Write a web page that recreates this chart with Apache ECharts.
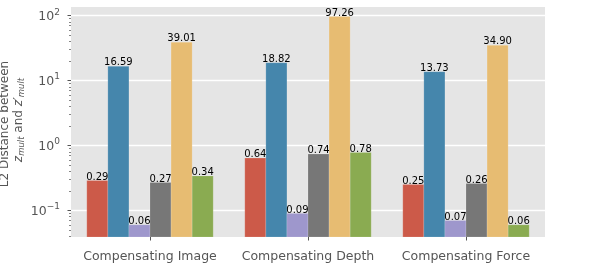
<!DOCTYPE html>
<html>
<head>
<meta charset="utf-8">
<script src="https://cdn.jsdelivr.net/npm/echarts@6/dist/echarts.min.js"></script>
<style>html,body{margin:0;padding:0;background:#fff}#c{width:598px;height:276px}</style>
</head>
<body>
<div id="c"></div>
<script>
const categories = ['Compensating Image', 'Compensating Depth', 'Compensating Force'];
const seriesNames = ['S1', 'S2', 'S3', 'S4', 'S5', 'S6'];
const s1 = [0.29, 0.64, 0.25];
const s2 = [16.59, 18.82, 13.73];
const s3 = [0.06, 0.09, 0.07];
const s4 = [0.27, 0.74, 0.26];
const s5 = [39.01, 97.26, 34.90];
const s6 = [0.34, 0.78, 0.06];
const majorTicks = [0.1, 1, 10, 100];
const minorTicks = [0.04,0.05,0.06,0.07,0.08,0.09,0.2,0.3,0.4,0.5,0.6,0.7,0.8,0.9,2,3,4,5,6,7,8,9,20,30,40,50,60,70,80,90];
const colors = ['#CC5A49', '#4586AC', '#9E97CC', '#777777', '#E7BC72', '#8AAB51'];
const allSeries = [s1, s2, s3, s4, s5, s6];

const FONT = 'DejaVu Sans';
const chart = echarts.init(document.getElementById('c'));
const yMin = 0.039, yMax = 136;
const nSeries = allSeries.length;
const barFrac = 0.8 / nSeries;

function makeRender(si) {
  return function (params, api) {
    const ci = api.value(0);
    const v = api.value(1);
    const top = api.coord([ci, v]);
    const base = api.coord([ci, yMin]);
    const band = api.size([1, 0])[0];
    const w = band * barFrac;
    const x0 = top[0] - (nSeries / 2) * w + si * w;
    return {
      type: 'group',
      children: [{
        type: 'rect',
        shape: { x: x0, y: top[1], width: w, height: base[1] - top[1] },
        style: { fill: colors[si], stroke: 'rgba(255,255,255,0.25)', lineWidth: 0.6 }
      }, {
        type: 'text',
        style: {
          x: x0 + w / 2, y: top[1] + 1.5,
          text: v.toFixed(2),
          align: 'center', verticalAlign: 'bottom',
          fill: '#000', fontSize: 10, fontFamily: FONT
        },
        z2: 10
      }]
    };
  };
}

chart.setOption({
  animation: false,
  textStyle: { fontFamily: FONT },
  grid: { left: 71, right: 53, top: 7, bottom: 39, show: true, backgroundColor: '#E5E5E5', borderWidth: 0 },
  xAxis: {
    type: 'category',
    data: categories,
    axisLine: { show: false },
    axisTick: { show: true, alignWithLabel: true, length: 3.5, lineStyle: { color: '#555', width: 1 } },
    axisLabel: { color: '#555', fontSize: 12.5, fontFamily: FONT, margin: 13, interval: 0 },
    splitLine: { show: false }
  },
  yAxis: [{
    type: 'log',
    min: yMin, max: yMax,
    axisLine: { show: false },
    axisTick: { show: true, length: 3.5, customValues: majorTicks, lineStyle: { color: '#555', width: 1 } },
    axisLabel: {
      customValues: majorTicks,
      margin: 11,
      formatter: function (v) {
        const e = Math.round(Math.log10(v));
        return '{b|10}{e|' + (e < 0 ? '\u2212' + (-e) : e) + '}';
      },
      rich: {
        b: { fontSize: 12.5, color: '#555', fontFamily: FONT, lineHeight: 16, verticalAlign: 'bottom' },
        e: { fontSize: 9, color: '#555', fontFamily: FONT, lineHeight: 9, verticalAlign: 'top' }
      }
    },
    splitLine: { show: true, lineStyle: { color: '#ffffff', width: 1.3 } }
  }, {
    type: 'log',
    min: yMin, max: yMax,
    position: 'left',
    axisLine: { show: false },
    axisTick: { show: true, length: 2, customValues: minorTicks, lineStyle: { color: '#666', width: 0.8 } },
    axisLabel: { show: false },
    splitLine: { show: false }
  }],
  graphic: [{
    type: 'text',
    x: 5, y: 124,
    rotation: Math.PI / 2,
    style: {
      text: 'L2 Distance between',
      align: 'center', verticalAlign: 'middle',
      fontSize: 12, fill: '#555', fontFamily: FONT
    }
  }, {
    type: 'text',
    x: 19, y: 120,
    rotation: Math.PI / 2,
    style: {
      text: '{i|z}{s|mult}{a| and }{i|z\u2032}{s|mult}',
      align: 'center', verticalAlign: 'middle',
      rich: {
        a: { fontSize: 12, fill: '#555', fontFamily: FONT, lineHeight: 14 },
        i: { fontSize: 12, fill: '#555', fontFamily: FONT, fontStyle: 'italic', lineHeight: 14 },
        s: { fontSize: 8.5, fill: '#555', fontFamily: FONT, fontStyle: 'italic', lineHeight: 8, verticalAlign: 'bottom' }
      }
    }
  }],
  series: allSeries.map(function (d, i) {
    return {
      type: 'custom',
      name: seriesNames[i],
      renderItem: makeRender(i),
      encode: { x: 0, y: 1 },
      data: d.map(function (v, ci) { return [ci, v]; }),
      clip: true
    };
  })
});
</script>
</body>
</html>
